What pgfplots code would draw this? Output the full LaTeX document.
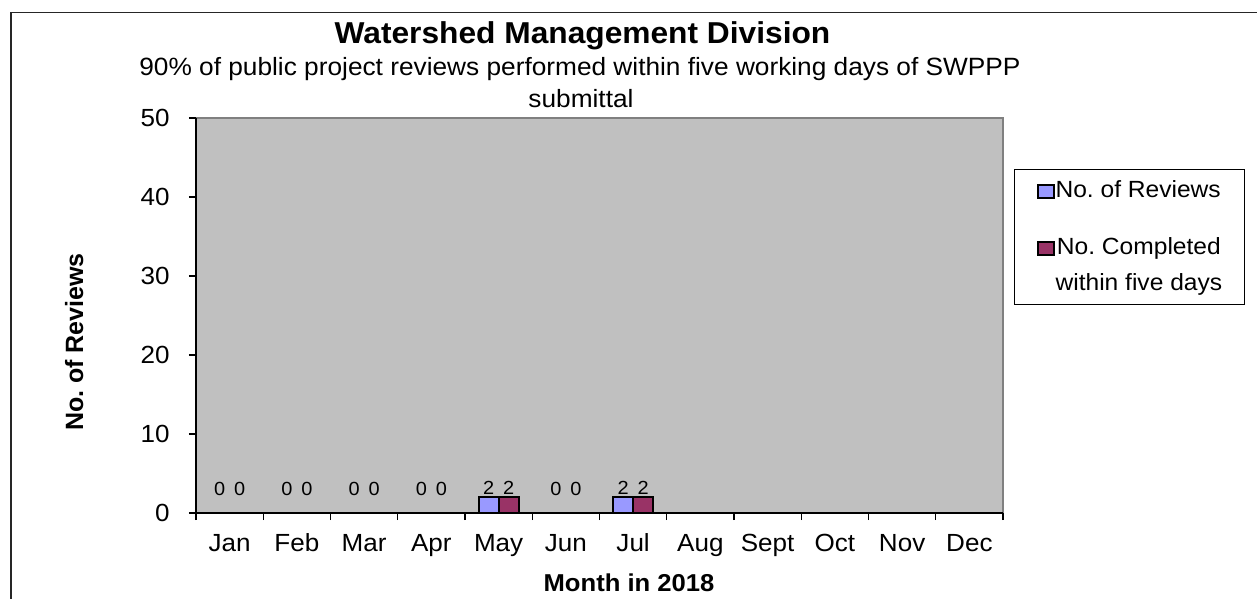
\documentclass[border=0pt]{standalone}
\usepackage{pgfplots}
\pgfplotsset{compat=1.18}
\usepackage{pgfplotstable}
\usepackage{fontspec}
\setmainfont{Liberation Sans}[FakeStretch=1.05]
\newfontfamily\plainsans{Liberation Sans}
\definecolor{plotgray}{HTML}{C0C0C0}
\definecolor{bordergray}{HTML}{808080}
\definecolor{revblue}{HTML}{9999FF}
\definecolor{compred}{HTML}{993366}

% months plotted at 0..11 (Jan=0)
\pgfplotstableread{
x rev comp
0 0 0
1 0 0
2 0 0
3 0 0
5 0 0
}\zerodata
\pgfplotstableread{
x rev comp
4 2 2
6 2 2
}\maindata

\begin{document}
\frenchspacing
\begin{tikzpicture}
\useasboundingbox (-98pt,-43pt) rectangle (530.5pt,256.5pt);
\draw[line width=0.6pt, black!85] (-92.5pt,-60pt) -- (-92.5pt,250.25pt) -- (560pt,250.25pt);
\begin{axis}[
  at={(0pt,0pt)}, anchor=south west,
  scale only axis, width=403.5pt, height=197.5pt,
  xmin=-0.5, xmax=11.5, ymin=0, ymax=50,
  axis x line=bottom, axis y line=left,
  axis line style={-, line width=1pt, black},
  axis background/.style={fill=plotgray, draw=bordergray, line width=1pt},
  ytick={0,10,...,50},
  xtick={-0.5,0.5,...,11.5},
  x tick label as interval,
  xticklabels={Jan,Feb,Mar,Apr,May,Jun,Jul,Aug,Sept,Oct,Nov,Dec},
  tick align=outside, major tick length=3.5pt,
  tick style={black, line width=0.6pt},
  tick label style={font=\fontsize{12.4}{14}\selectfont},
  yticklabel style={anchor=east, inner sep=0pt, xshift=-9.5pt},
  xticklabel style={anchor=base, inner sep=0pt, yshift=-16pt},
  /pgf/number format/assume math mode=true,
  xlabel={Month in 2018},
  xlabel style={at={(axis description cs:0.5366,-0.2)}, anchor=base, inner sep=0pt, font=\bfseries\fontsize{12.2}{14}\selectfont},
  ylabel={No. of Reviews},
  ylabel style={at={(axis description cs:-0.14,0.4329)}, anchor=base, rotate=0, inner sep=0pt, font=\plainsans\bfseries\fontsize{12.5}{15}\selectfont},
  ybar,
  legend image code/.code={\draw[#1, line width=1pt] (0pt,0pt) rectangle (8pt,6.5pt);},
  legend style={at={(axis description cs:1.0136,0.8709)}, anchor=north west,
    draw=black, line width=0.6pt, fill=white,
    inner xsep=11pt, inner ysep=0pt, row sep=0pt, column sep=0.5pt,
    font=\fontsize{11.7}{18}\selectfont,
    nodes={inner sep=0pt, text depth=, text height=}, cells={anchor=base west}},
]
\addplot[ybar, bar width=10pt, bar shift=-5pt, draw=black, line width=1pt, fill=revblue,
  legend image code/.code={\draw[draw=black, fill=revblue, line width=1pt] (0pt,0pt) rectangle (8pt,6.5pt);},
  nodes near coords, nodes near coords style={anchor=south, inner sep=0pt, yshift=1pt, font=\fontsize{9.5}{10}\selectfont}]
  table[x=x, y=rev] {\maindata};
\addlegendentry{\rule{0pt}{14pt}No. of Reviews\rule[-15.9pt]{0pt}{0pt}}
\addplot[ybar, bar width=10pt, bar shift=5pt, draw=black, line width=1pt, fill=compred,
  legend image code/.code={\draw[draw=black, fill=compred, line width=1pt] (0pt,0pt) rectangle (8pt,6.5pt);},
  nodes near coords, nodes near coords style={anchor=south, inner sep=0pt, yshift=1pt, font=\fontsize{9.5}{10}\selectfont}]
  table[x=x, y=comp] {\maindata};
\addlegendentry{\begin{tabular}[t]{@{}c@{}}No. Completed\\within five days\rule[-7pt]{0pt}{0pt}\end{tabular}}
\addplot[ybar, forget plot, bar width=10pt, bar shift=-5pt, draw=none, fill=none,
  nodes near coords, nodes near coords style={anchor=south, inner sep=0pt, yshift=8.5pt, font=\fontsize{9.5}{10}\selectfont}]
  table[x=x, y=rev] {\zerodata};
\addplot[ybar, forget plot, bar width=10pt, bar shift=5pt, draw=none, fill=none,
  nodes near coords, nodes near coords style={anchor=south, inner sep=0pt, yshift=8.5pt, font=\fontsize{9.5}{10}\selectfont}]
  table[x=x, y=comp] {\zerodata};
\end{axis}
\node[anchor=base, font=\bfseries\fontsize{15.1}{17}\selectfont] at (193.25pt,234.85pt) {Watershed Management Division};
\node[anchor=base, font=\fontsize{12.5}{14}\selectfont] at (192pt,218.5pt) {90\% of public project reviews performed within five working days of SWPPP};
\node[anchor=base, font=\fontsize{12.5}{14}\selectfont] at (192.5pt,202.5pt) {submittal};
\end{tikzpicture}
\end{document}
